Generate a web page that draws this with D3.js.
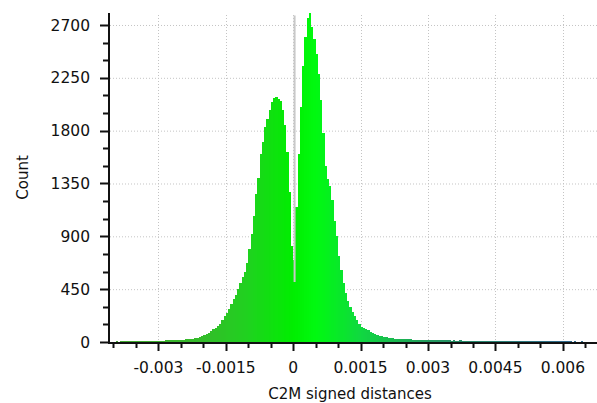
<!DOCTYPE html>
<html>
<head>
<meta charset="utf-8">
<script src="https://cdn.jsdelivr.net/npm/d3@7"></script>
<style>
  html, body { margin: 0; padding: 0; background: #fff; }
  svg text { font-family: "DejaVu Sans", sans-serif; fill: #111; }
</style>
</head>
<body>
<div id="histogram"></div>
<script>
// histogram of C2M signed distances, bins of 0.00005 starting at -0.0041
const binStart = -0.0041;
const binWidth = 0.00005;
const counts = [
    3, 4, 4, 5, 4, 5, 5, 6, 5, 6, 6, 7, 6, 7, 8, 7, 8, 9,
    9, 9, 10, 11, 10, 12, 12, 13, 14, 14, 15, 16, 17,
    18, 19, 21, 22, 24, 25, 28, 31, 34, 39, 47, 56, 68, 80, 93, 107, 121, 137, 151,
    190, 220, 243, 280, 322, 365, 400, 450, 504, 555, 600, 670, 790, 920, 1070, 1260,
    1400, 1600, 1700, 1830, 1900, 1980, 2045, 2075, 2085, 2070, 2050, 1980, 1850, 1620,
    1280, 820, 700, 1150,
    1600, 2000, 2350, 2600, 2760, 2800, 2680, 2580, 2450, 2280, 2060, 1780, 1500, 1390,
    1330, 1210, 1030, 900, 730, 610, 500, 420, 350, 295, 258, 225, 190, 150, 132, 120,
    108, 98, 88, 79, 70, 62, 54, 49, 44, 40, 36, 33, 31, 29, 28, 27, 26,
    25, 24, 23, 22, 21, 20, 19,
    18, 17, 17, 16, 16, 15, 15, 15, 14, 14, 14, 13, 13,
    13, 12, 13, 12, 12, 13, 12, 11, 12, 12, 11, 12, 11, 11, 12, 11, 11, 10, 11, 11, 10, 11,
    10, 10, 11, 10, 10, 9, 10, 10, 9, 10, 9, 9, 10, 9, 9, 8, 9, 9, 8, 9, 8,
    7, 6, 7, 6, 6, 5, 6, 5, 5, 6, 5, 5, 4, 5, 4, 4, 5, 4, 4, 3, 4, 3, 3, 4
];

const xTicks = [-0.003, -0.0015, 0, 0.0015, 0.003, 0.0045, 0.006];
const xTickLabels = ["-0.003", "-0.0015", "0", "0.0015", "0.003", "0.0045", "0.006"];
const xMinorTicks = [-0.004, -0.0035, -0.0025, -0.002, -0.001, -0.0005, 0.0005, 0.001,
    0.002, 0.0025, 0.0035, 0.004, 0.005, 0.0055, 0.0065];
const yTicks = [0, 450, 900, 1350, 1800, 2250, 2700];
const yMinorTicks = [150, 300, 600, 750, 1050, 1200, 1500, 1650, 1950, 2100, 2400, 2550];

// colour scale stops (value -> colour)
const colorStops = [-0.004, -0.002, -0.001, 0, 0.0005, 0.0015, 0.003, 0.006];
const colorValues = ["#44a832", "#34bc2a", "#1fd21f", "#00ee00", "#00fa10", "#10d840", "#239a5e", "#2f6a8c"];

// vertical marker line near zero
const markerValue = 0.00003;
const markerRange = [510, 2780];

const width = 597;
const height = 403;
const margin = {top: 13, right: 0, bottom: 61, left: 109};

const x = d3.scaleLinear()
    .domain([-0.0041, 0.00676])
    .range([margin.left, width - margin.right]);

const y = d3.scaleLinear()
    .domain([0, 2802])
    .range([height - margin.bottom, margin.top]);

const color = d3.scaleLinear().domain(colorStops).range(colorValues).clamp(true);

const bins = counts.map((c, i) => ({x0: binStart + i * binWidth, x1: binStart + (i + 1) * binWidth, count: c}));

const svg = d3.select("#histogram")
    .append("svg")
    .attr("width", width)
    .attr("height", height);

const y0 = y(0);

// grid
svg.append("g")
    .attr("class", "grid")
    .selectAll("line.h")
    .data(yTicks.filter(d => d > 0))
    .enter().append("line")
    .attr("x1", margin.left + 1)
    .attr("x2", width)
    .attr("y1", d => y(d) + 0.5)
    .attr("y2", d => y(d) + 0.5)
    .attr("stroke", "#c4c4c4")
    .attr("stroke-dasharray", "1,2");

svg.append("g")
    .attr("class", "grid")
    .selectAll("line.v")
    .data(xTicks)
    .enter().append("line")
    .attr("x1", d => Math.round(x(d)) + 0.5)
    .attr("x2", d => Math.round(x(d)) + 0.5)
    .attr("y1", margin.top + 2)
    .attr("y2", y0)
    .attr("stroke", "#c4c4c4")
    .attr("stroke-dasharray", "1,2");

// bars, snapped to whole pixels so neighbours touch without seams
svg.append("g")
    .attr("class", "bars")
    .attr("shape-rendering", "crispEdges")
    .selectAll("rect")
    .data(bins)
    .enter().append("rect")
    .attr("x", d => Math.round(x(d.x0)))
    .attr("width", d => Math.round(x(d.x1)) - Math.round(x(d.x0)))
    .attr("y", d => Math.round(y(d.count)))
    .attr("height", d => Math.round(y0) - Math.round(y(d.count)))
    .attr("fill", d => color((d.x0 + d.x1) / 2));

// marker line
svg.append("line")
    .attr("x1", x(markerValue))
    .attr("x2", x(markerValue))
    .attr("y1", y(markerRange[1]))
    .attr("y2", y(markerRange[0]))
    .attr("stroke", "#c8c8c8")
    .attr("stroke-width", 2);

// axes
const axisColor = "#111";

const xAxis = svg.append("g").attr("class", "x-axis");
xAxis.append("line")
    .attr("x1", margin.left)
    .attr("x2", width)
    .attr("y1", y0 + 1)
    .attr("y2", y0 + 1)
    .attr("stroke", axisColor)
    .attr("stroke-width", 2);
xAxis.selectAll("line.major")
    .data(xTicks)
    .enter().append("line")
    .attr("class", "major")
    .attr("x1", d => Math.round(x(d)) + 0.5)
    .attr("x2", d => Math.round(x(d)) + 0.5)
    .attr("y1", y0)
    .attr("y2", y0 + 9)
    .attr("stroke", axisColor)
    .attr("stroke-width", 2);
xAxis.selectAll("line.minor")
    .data(xMinorTicks)
    .enter().append("line")
    .attr("class", "minor")
    .attr("x1", d => Math.round(x(d)) + 0.5)
    .attr("x2", d => Math.round(x(d)) + 0.5)
    .attr("y1", y0)
    .attr("y2", y0 + 6)
    .attr("stroke", axisColor)
    .attr("stroke-width", 2);
xAxis.selectAll("text")
    .data(xTicks)
    .enter().append("text")
    .attr("x", d => x(d))
    .attr("y", y0 + 31)
    .attr("text-anchor", "middle")
    .style("font-size", "15.5px")
    .text((d, i) => xTickLabels[i]);

const yAxis = svg.append("g").attr("class", "y-axis");
yAxis.append("line")
    .attr("x1", margin.left)
    .attr("x2", margin.left)
    .attr("y1", margin.top)
    .attr("y2", y0 + 2)
    .attr("stroke", axisColor)
    .attr("stroke-width", 2);
yAxis.selectAll("line.major")
    .data(yTicks)
    .enter().append("line")
    .attr("class", "major")
    .attr("x1", margin.left - 9)
    .attr("x2", margin.left)
    .attr("y1", d => Math.round(y(d)) + 0.5)
    .attr("y2", d => Math.round(y(d)) + 0.5)
    .attr("stroke", axisColor)
    .attr("stroke-width", 2);
yAxis.selectAll("line.minor")
    .data(yMinorTicks)
    .enter().append("line")
    .attr("class", "minor")
    .attr("x1", margin.left - 6)
    .attr("x2", margin.left)
    .attr("y1", d => Math.round(y(d)) + 0.5)
    .attr("y2", d => Math.round(y(d)) + 0.5)
    .attr("stroke", axisColor)
    .attr("stroke-width", 2);
yAxis.selectAll("text")
    .data(yTicks)
    .enter().append("text")
    .attr("x", margin.left - 19)
    .attr("y", d => y(d))
    .attr("dy", "0.36em")
    .attr("text-anchor", "end")
    .style("font-size", "15.5px")
    .text(d => d);

// axis titles
svg.append("text")
    .attr("transform", `translate(28,${(margin.top + y0) / 2}) rotate(-90)`)
    .attr("text-anchor", "middle")
    .style("font-size", "15px")
    .text("Count");

svg.append("text")
    .attr("x", 350)
    .attr("y", 399)
    .attr("text-anchor", "middle")
    .style("font-size", "15px")
    .text("C2M signed distances");
</script>
</body>
</html>
